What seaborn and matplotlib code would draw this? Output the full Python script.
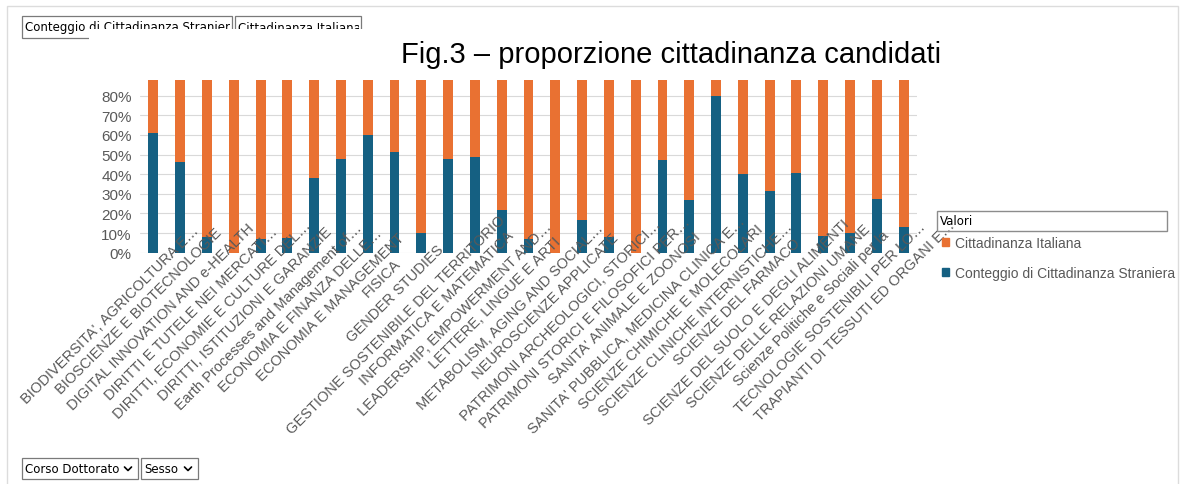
import matplotlib
matplotlib.use("Agg")
import matplotlib.pyplot as plt
import matplotlib.transforms as mtransforms
from matplotlib.patches import Rectangle, Patch
from matplotlib.font_manager import FontProperties
import pandas as pd
import seaborn as sns

sns.set_style("white")
plt.rcParams["font.family"] = ["Liberation Sans", "DejaVu Sans"]

corsi = [
    "BIODIVERSITA', AGRICOLTURA E…",
    "BIOSCIENZE E BIOTECNOLOGIE",
    "DIGITAL INNOVATION AND e-HEALTH",
    "DIRITTI E TUTELE NEI MERCATI…",
    "DIRITTI, ECONOMIE E CULTURE DEL…",
    "DIRITTI, ISTITUZIONI E GARANZIE",
    "Earth Processes and Management of…",
    "ECONOMIA E FINANZA DELLE…",
    "ECONOMIA E MANAGEMENT",
    "FISICA",
    "GENDER STUDIES",
    "GESTIONE SOSTENIBILE DEL TERRITORIO",
    "INFORMATICA E MATEMATICA",
    "LEADERSHIP, EMPOWERMENT AND…",
    "LETTERE, LINGUE E ARTI",
    "METABOLISM, AGING AND SOCIAL…",
    "NEUROSCIENZE APPLICATE",
    "PATRIMONI ARCHEOLOGICI, STORICI…",
    "PATRIMONI STORICI E FILOSOFICI PER…",
    "SANITA' ANIMALE E ZOONOSI",
    "SANITA' PUBBLICA, MEDICINA CLINICA E…",
    "SCIENZE CHIMICHE E MOLECOLARI",
    "SCIENZE CLINICHE INTERNISTICHE…",
    "SCIENZE DEL FARMACO",
    "SCIENZE DEL SUOLO E DEGLI ALIMENTI",
    "SCIENZE DELLE RELAZIONI UMANE",
    "Scienze Politiche e Sociali per la",
    "TECNOLOGIE SOSTENIBILI PER LO…",
    "TRAPIANTI DI TESSUTI ED ORGANI E…",
]

# quota di candidati con cittadinanza straniera (il resto e' italiana)
straniera = [0.61, 0.46, 0.08, 0.0, 0.07, 0.075, 0.38, 0.48, 0.60, 0.515,
             0.10, 0.478, 0.49, 0.217, 0.07, 0.0, 0.166, 0.08, 0.0, 0.472,
             0.267, 0.80, 0.402, 0.316, 0.404, 0.087, 0.10, 0.273, 0.131]
italiana = [1 - s for s in straniera]

ticks_y = [0, 0.1, 0.2, 0.3, 0.4, 0.5, 0.6, 0.7, 0.8]

ARANCIO = "#E97132"
BLU = "#156082"
GRIGIO = "#595959"

W, H = 1180, 485


def fx(px):
    return px / W


def fy(py):
    return 1 - py / H


df = pd.DataFrame({"corso": corsi, "straniera": straniera, "italiana": italiana})
df["totale"] = df["straniera"] + df["italiana"]

fig = plt.figure(figsize=(W / 100, H / 100), dpi=100)
ax = fig.add_axes([fx(140), fy(253.7), (917 - 140) / W, (253.7 - 81) / H])

sns.barplot(data=df, x="corso", y="totale", color=ARANCIO, width=0.37,
            saturation=1, errorbar=None, linewidth=0, ax=ax)
sns.barplot(data=df, x="corso", y="straniera", color=BLU, width=0.37,
            saturation=1, errorbar=None, linewidth=0, ax=ax)

ax.set_ylim(0, 0.88)
ax.set_xlim(-0.5, len(corsi) - 0.5)
ax.set_yticks(ticks_y)
ax.set_yticklabels([f"{int(round(t * 100))}%" for t in ticks_y])
ax.tick_params(axis="y", length=0, pad=6, labelsize=11, labelcolor=GRIGIO)
ax.tick_params(axis="x", length=0)
ax.set_xticklabels([])
ax.set_xlabel("")
ax.set_ylabel("")
ax.yaxis.grid(True, color="#d9d9d9", lw=0.8)
ax.set_axisbelow(True)
sns.despine(ax=ax, left=True, bottom=True)

# etichette ruotate, posizionate come in Excel
renderer = fig.canvas.get_renderer()
fp = FontProperties(family=["Liberation Sans", "DejaVu Sans"], size=10.5)
base = mtransforms.blended_transform_factory(ax.transData, ax.transAxes)
for i, lab in enumerate(corsi):
    w, h, d = renderer.get_text_width_height_descent(lab, fp, ismath=False)
    tr = mtransforms.offset_copy(base, fig=fig, x=-6 + 0.2 * w,
                                 y=-16.5 + 0.17 * w, units="dots")
    ax.text(i, 0, lab, transform=tr, rotation=45, rotation_mode="anchor",
            ha="right", va="center", fontproperties=fp, color=GRIGIO,
            clip_on=False)

fig.text(fx(671), fy(55), "Fig.3 \u2013 proporzione cittadinanza candidati",
         ha="center", va="center", fontsize=21, color="black")

# legenda
fig.patches.append(Rectangle((fx(937), fy(232)), (1167 - 937) / W, 20 / H,
                             transform=fig.transFigure, fill=False,
                             edgecolor="#8c8c8c", lw=1))
fig.text(fx(940), fy(222), "Valori", ha="left", va="center", fontsize=8.5,
         family="DejaVu Sans", color="black")
handles = [Patch(color=ARANCIO, label="Cittadinanza Italiana"),
           Patch(color=BLU, label="Conteggio di Cittadinanza Straniera")]
fig.legend(handles=handles, loc="upper left",
           bbox_to_anchor=(fx(942), fy(237)), frameon=False, fontsize=10,
           handlelength=0.5, handleheight=0.5, handletextpad=0.45,
           labelspacing=1.15, labelcolor=GRIGIO, borderaxespad=0,
           borderpad=0)

# pulsanti dei campi pivot
def pulsante(x0, y0, x1, y1, testo, freccia=False):
    fig.patches.append(Rectangle((fx(x0), fy(y1)), (x1 - x0) / W,
                                 (y1 - y0) / H, transform=fig.transFigure,
                                 facecolor="white", edgecolor="#7a7a7a",
                                 lw=0.9, zorder=3))
    t = fig.text(fx(x0 + 3), fy((y0 + y1) / 2), testo, ha="left",
                 va="center", fontsize=8.5, family="DejaVu Sans",
                 color="black", zorder=4)
    clip = mtransforms.TransformedBbox(
        mtransforms.Bbox([[fx(x0), fy(y1)], [fx(x1 - 2), fy(y0)]]),
        fig.transFigure)
    t.set_clip_box(clip)
    t.set_clip_on(True)
    if freccia:
        cx, cy = x1 - 10, (y0 + y1) / 2
        fig.lines.append(plt.Line2D([fx(cx - 3.5), fx(cx), fx(cx + 3.5)],
                                    [fy(cy - 1.5), fy(cy + 2), fy(cy - 1.5)],
                                    transform=fig.transFigure, color="black",
                                    lw=1.2, zorder=4))


pulsante(22, 17, 232, 39, "Conteggio di Cittadinanza Straniera")
pulsante(235, 17, 361, 39, "Cittadinanza Italiana")
# parte inferiore dei pulsanti nascosta
fig.patches.append(Rectangle((fx(89), fy(44)), (370 - 89) / W, 14 / H,
                             transform=fig.transFigure, facecolor="white",
                             edgecolor="none", zorder=5))
pulsante(22, 459, 138, 480, "Corso Dottorato", freccia=True)
pulsante(141, 459, 198, 480, "Sesso", freccia=True)

# cornice del foglio
fig.patches.append(Rectangle((fx(7), fy(490)), (1178 - 7) / W, 483 / H,
                             transform=fig.transFigure, fill=False,
                             edgecolor="#dcdcdc", lw=1))

fig.savefig("out.png", dpi=100)
